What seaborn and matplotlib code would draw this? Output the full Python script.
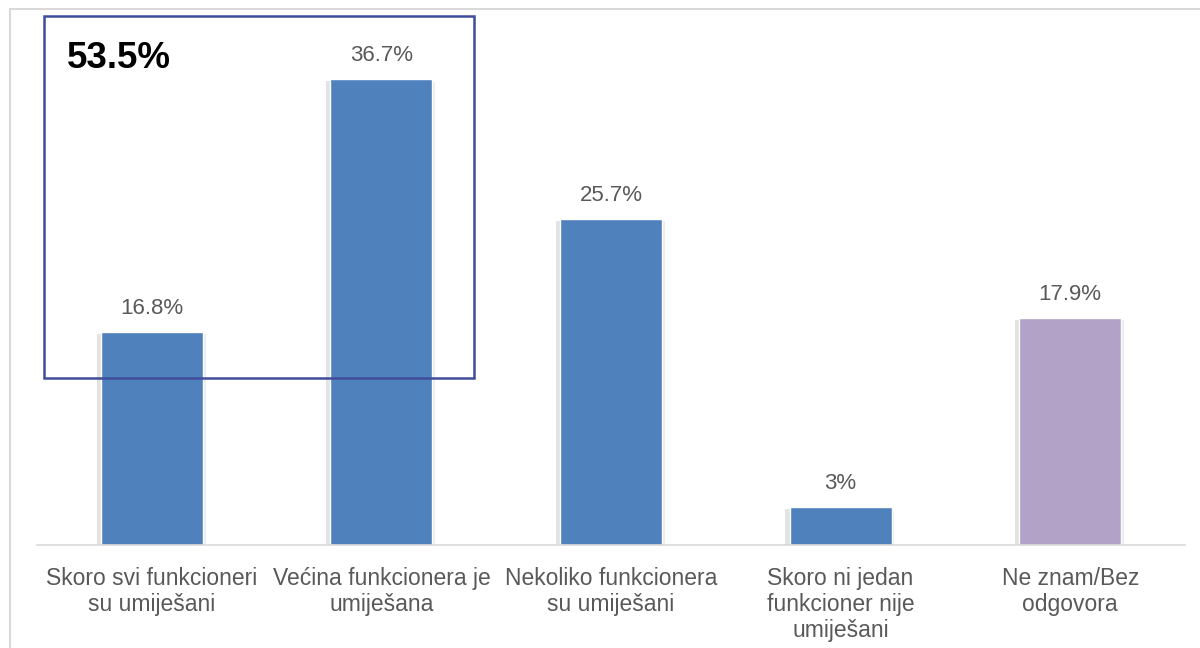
import pandas as pd
import seaborn as sns
import matplotlib.pyplot as plt
import matplotlib.patheffects as pe
from matplotlib.patches import Rectangle
from matplotlib.lines import Line2D

# podaci
kategorije = ["Skoro svi funkcioneri\nsu umiješani",
              "Većina funkcionera je\numiješana",
              "Nekoliko funkcionera\nsu umiješani",
              "Skoro ni jedan\nfunkcioner nije\numiješani",
              "Ne znam/Bez\nodgovora"]
vrijednosti = [16.8, 36.7, 25.7, 3.0, 17.9]
oznake = ["16.8%", "36.7%", "25.7%", "3%", "17.9%"]
boje = ["#4f81bd", "#4f81bd", "#4f81bd", "#4f81bd", "#b3a2c7"]
ukupno = "53.5%"

df = pd.DataFrame({"kat": kategorije, "val": vrijednosti})

sns.set_style("white")
plt.rcParams['font.family'] = ['Liberation Sans', 'DejaVu Sans']

fig = plt.figure(figsize=(12, 6.48), dpi=100)
ax = fig.add_axes([37 / 1200, 103 / 648, 1148 / 1200, 529 / 648])

sns.barplot(data=df, x="kat", y="val", hue="kat", palette=boje, legend=False,
            width=0.445, saturation=1, ax=ax, zorder=2)

# blaga sjena oko stupaca
for p in ax.patches:
    p.set_path_effects([pe.SimplePatchShadow(offset=(-3, -1.5), shadow_rgbFace="#808080", alpha=0.22),
                        pe.SimplePatchShadow(offset=(2, -2), shadow_rgbFace="#808080", alpha=0.15),
                        pe.Normal()])

for i, (v, t) in enumerate(zip(vrijednosti, oznake)):
    ax.text(i, v + 1.0, t, ha="center", va="bottom", fontsize=16, color="#595959")

ax.set_xlim(-0.5, 4.5)
ax.set_ylim(0, 529 / 12.7)
ax.set_xlabel("")
ax.set_ylabel("")
ax.set_yticks([])
ax.tick_params(axis="x", length=0, pad=16, labelsize=16.5, labelcolor="#595959")
for lbl in ax.get_xticklabels():
    lbl.set_linespacing(1.15)
for s in ["top", "right", "left"]:
    ax.spines[s].set_visible(False)
ax.spines["bottom"].set_color("#d9d9d9")
ax.spines["bottom"].set_linewidth(1.2)

# okvir grafikona
fig.add_artist(Line2D([10 / 1200, 1], [1 - 9 / 648, 1 - 9 / 648], color="#d9d9d9", lw=1.5))
fig.add_artist(Line2D([10 / 1200, 10 / 1200], [0, 1 - 9 / 648], color="#d9d9d9", lw=1.5))

# istaknuti okvir
fig.add_artist(Rectangle((44 / 1200, 1 - 378 / 648), 430 / 1200, 362 / 648,
                         fill=False, edgecolor="#3f4d9b", lw=1.8, zorder=5))
fig.text(67 / 1200, 1 - 59 / 648, ukupno, fontsize=26.5, fontweight="bold",
         color="black", va="center", ha="left")

fig.savefig("out.png", dpi=100)
